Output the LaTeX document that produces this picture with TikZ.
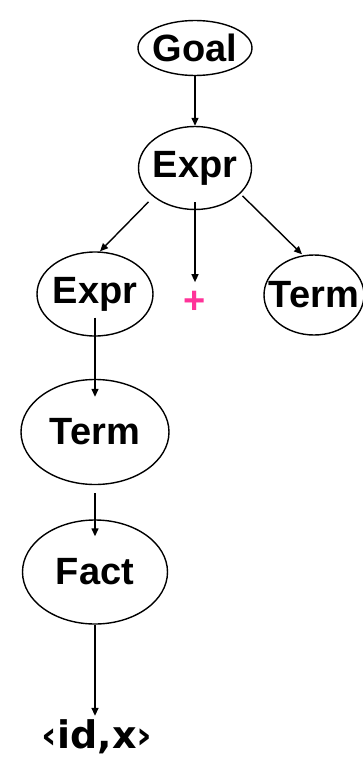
\documentclass[tikz,border=0pt]{standalone}
\usepackage{fontspec}
\setmainfont{Liberation Sans}
\newfontfamily\idfont{DejaVu Sans}
\usepackage{xcolor}
\usetikzlibrary{shapes,arrows.meta}
\definecolor{pluspink}{RGB}{255,51,153}

\begin{document}
\begin{tikzpicture}[x=1pt,y=-1pt,line width=1.4pt,>={Triangle[length=8pt,width=7pt]},
  every node/.style={font=\fontsize{38}{40}\selectfont\bfseries},
  nt/.style={ellipse,draw,inner xsep=-30pt,inner ysep=0pt}]

  \useasboundingbox (0,0) rectangle (362,765);

  % nodes of the tree
  \node[nt,minimum width=114pt,minimum height=55pt] (goal) at (195,48) {Goal};
  \node[nt,minimum width=113pt,minimum height=83pt] (expr) at (195,168) {Expr};
  \node[nt,minimum width=116pt,minimum height=84pt] (exprl) at (95,294) {Expr};
  \node[text=pluspink,inner sep=8pt] (plus) at (195,302) {+};
  \node[nt,minimum width=100pt,minimum height=80pt] (termr) at (314,295) {Term};
  \node[nt,minimum width=148pt,minimum height=105pt] (term) at (95,432) {Term};
  \node[nt,minimum width=145pt,minimum height=104pt] (fact) at (95,572) {Fact};
  \node[font=\fontsize{38}{40}\selectfont\idfont\bfseries] (id) at (97,737) {‹id,x›};

  % edges
  \draw[->] (goal.south) -- (expr.north);
  \draw[->] ([xshift=-6pt,yshift=-4pt]expr.south west) -- ([xshift=5pt]exprl.north);
  \draw[->] ([yshift=8pt]expr.south) -- (plus.north);
  \draw[->] ([xshift=7pt,yshift=2pt]expr.south east) -- ([xshift=-12pt]termr.north);
  \draw[->] ([yshift=19pt]exprl.south) -- ([yshift=-18pt]term.north);
  \draw[->] ([yshift=-8pt]term.south) -- ([yshift=-17pt]fact.north);
  \draw[->] (fact.south) -- (fact.south |- id.north);

\end{tikzpicture}
\end{document}
